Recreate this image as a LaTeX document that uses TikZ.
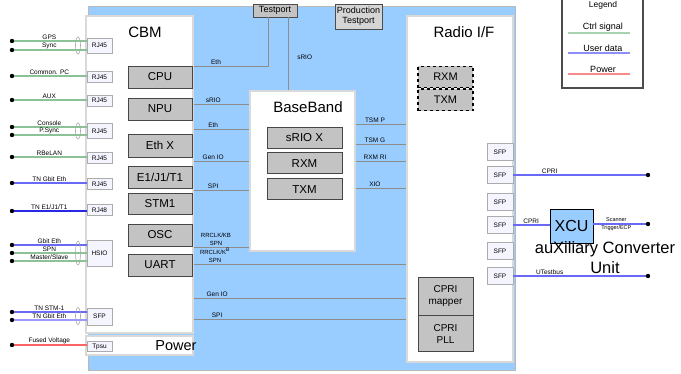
\documentclass[tikz,border=0pt]{standalone}
\usepackage{fontspec}
\setmainfont{Liberation Sans}
\usetikzlibrary{calc,positioning}
\definecolor{bgblue}{RGB}{153,204,255}
\definecolor{ctrlgreen}{RGB}{140,195,150}
\definecolor{userblue}{RGB}{105,105,245}
\definecolor{userdark}{RGB}{40,40,230}
\definecolor{userlight}{RGB}{155,155,255}
\definecolor{pwrred}{RGB}{250,100,100}
\definecolor{busgray}{RGB}{140,140,140}
\definecolor{unitgray}{RGB}{195,195,195}
\newcommand{\fsz}[2]{\fontsize{#1}{#2}\selectfont}
\tikzset{
  panel/.style={draw=gray!55, line width=0.8pt, fill=bgblue, inner sep=0pt},
  board/.style={draw=gray!30, line width=1.5pt, fill=white, inner sep=0pt},
  unit/.style={draw=gray!55!black, line width=0.9pt, fill=unitgray, minimum width=64pt, minimum height=22pt, inner sep=0pt, font=\fsz{11.5}{13}, align=center},
  port/.style={draw=gray!65, line width=0.7pt, fill=blue!4, minimum width=25pt, inner sep=0pt, font=\fsz{6.5}{7}},
  sfp/.style={port, minimum width=26pt, minimum height=17pt},
  tport/.style={draw=gray!60!black, line width=0.9pt, fill=unitgray, inner sep=0pt, font=\fsz{9}{10}, align=center},
  ttl/.style={font=\fsz{15}{18}, inner sep=0pt},
  sig/.style={font=\fsz{6.5}{8}, inner sep=0.8pt, anchor=south, align=center},
  bus/.style={draw=busgray, line width=0.9pt},
  ctrl/.style={draw=ctrlgreen, line width=1.6pt},
  user/.style={draw=userblue, line width=1.6pt},
  userdk/.style={draw=userdark, line width=1.8pt},
  userlt/.style={draw=userlight, line width=2pt},
  pwr/.style={draw=pwrred, line width=1.6pt},
  jack/.style={fill=black},
  bundle/.style={draw=gray!70, line width=0.6pt},
}
\newcommand{\InLine}[5]{%
  \coordinate (#1) at (12,#2);
  \draw[#3] (#1) -- (#1 -| #5.west) node[sig, midway] {#4};
  \fill[jack] (#1) circle (2.2pt);
}

\begin{document}
\begin{tikzpicture}[x=1pt, y=-1pt]
  \useasboundingbox (0,0) rectangle (681,373);
  \node[panel, minimum width=427pt, minimum height=364pt] (bg) at (301.5,188) {};
  \node[board, minimum width=107pt, minimum height=317pt] (cbm) at (139.5,174.5) {};
  \node[board, minimum width=107pt, minimum height=19pt] (pwr) at (139.5,345.5) {};
  \node[board, minimum width=105pt, minimum height=160pt] (bb) at (302.5,171) {};
  \node[board, minimum width=106pt, minimum height=346pt] (rf) at (460,189) {};

  \node[ttl] (cbmt) at (145,32) {CBM};
  \node[ttl] (bbt) at (308,107) {BaseBand};
  \node[ttl] (rft) at (464,32) {Radio I/F};
  \node[ttl, font=\fsz{14.5}{16}] (pwrt) at (176,346) {Power};

  \node[tport, minimum width=44pt, minimum height=13pt] (tp) at (275,10.5) {Testport};
  \node[tport, fill=unitgray!70, minimum width=47pt, minimum height=25pt] (ptp) at (358.5,16.5) {Production\\Testport};

  \foreach \nm/\txt/\y/\h in {cpu/CPU/77/22, npu/NPU/109/22, ethx/Eth X/145.5/23, e1/{E1/J1/T1}/177/22, stm/STM1/203.5/21, osc/OSC/235/22, uart/UART/265/22} {
    \node[unit, minimum height=\h] (\nm) at (160,\y) {\txt};
  }

  \node[unit, minimum width=75pt, minimum height=21pt] (srio) at (304.5,137.5) {sRIO X};
  \node[unit, minimum width=75pt, minimum height=21pt, below=4pt of srio] (bbrxm) {RXM};
  \node[unit, minimum width=75pt, minimum height=21pt, below=4pt of bbrxm] (bbtxm) {TXM};

  \node[unit, dashed, draw=black, line width=1.3pt, minimum width=55pt, minimum height=21.5pt, font=\fsz{11}{13}] (rfrxm) at (445.5,77) {RXM};
  \node[unit, dashed, draw=black, line width=1.3pt, minimum width=55pt, minimum height=21.5pt, font=\fsz{11}{13}, below=0pt of rfrxm] (rftxm) {TXM};
  \node[unit, minimum width=55pt, minimum height=38pt, font=\fsz{10}{12}] (cprim) at (445.5,296) {CPRI\\mapper};
  \node[unit, minimum width=55pt, minimum height=36pt, font=\fsz{10}{12}, below=0pt of cprim] (cpripll) {CPRI\\PLL};

  \foreach \txt/\y/\h [count=\i] in {RJ45/45.5/15, RJ45/77/11, RJ45/100.5/11, RJ45/131/15, RJ45/158/11, RJ45/184/11, RJ48/210/11, HSIO/253/26, SFP/316.5/17, Tpsu/346.5/10} {
    \node[port, minimum height=\h] (p\i) at (99.5,\y) {\txt};
  }

  \InLine{gps}{41}{ctrl}{GPS}{p1}
  \InLine{sync}{50}{ctrl}{Sync}{p1}
  \InLine{cpc}{76}{ctrl}{Common. PC}{p2}
  \InLine{aux}{100}{ctrl}{AUX}{p3}
  \InLine{cons}{127}{ctrl}{Console}{p4}
  \InLine{psync}{135}{ctrl}{P.Sync}{p4}
  \InLine{rblan}{157}{ctrl}{RBeLAN}{p5}
  \InLine{tneth}{183}{user}{TN Gbit Eth}{p6}
  \InLine{tne1}{211}{userdk}{TN E1/J1/T1}{p7}
  \InLine{geth}{245}{user}{Gbit Eth}{p8}
  \InLine{spn}{253}{ctrl}{SPN}{p8}
  \InLine{msl}{261}{ctrl}{Master/Slave}{p8}
  \InLine{tnstm}{312}{user}{TN STM-1}{p9}
  \InLine{tneth2}{320}{userlt}{TN Gbit Eth}{p9}
  \InLine{fused}{345}{pwr}{Fused Voltage}{p10}

  \draw[bundle] (78,45.5) ellipse (2.5pt and 8.5pt);
  \draw[bundle] (78,131) ellipse (2.5pt and 8pt);
  \draw[bundle] (78,253) ellipse (2.5pt and 12pt);
  \draw[bundle] (78,316) ellipse (2.5pt and 8.5pt);

  \coordinate (tp1) at ([xshift=-7pt]tp.south);
  \coordinate (tp2) at ([xshift=13pt]tp.south);
  \draw[bus] (tp1) |- (cbm.east |- 0,66) node[sig, pos=0.85] {Eth};
  \draw[bus] (tp2) -- (tp2 |- bb.north) node[sig, anchor=west, pos=0.55, xshift=8pt] {sRIO};

  \foreach \y/\lbl in {104/sRIO, 129/Eth, 161/Gen IO, 190/SPI} {
    \draw[bus] (cbm.east |- 0,\y) -- (bb.west |- 0,\y) node[sig, pos=0.35] {\lbl};
  }
  \draw[bus] (cbm.east |- 0,247) -- (bb.west |- 0,247) node[sig, pos=0.4, font=\fsz{6}{8.5}] {RRCLK/KB\\SPN};
  \draw[bus] (cbm.east |- 0,264) -- (rf.west |- 0,264) node[sig, pos=0.1, font=\fsz{6}{8.5}] {RRCLK/K\textsuperscript{B}\\SPN};
  \foreach \y/\lbl in {298/Gen IO, 319/SPI} {
    \draw[bus] (cbm.east |- 0,\y) -- (rf.west |- 0,\y) node[sig, pos=0.11] {\lbl};
  }
  \foreach \y/\lbl in {124/TSM P, 144/TSM G, 161/RXM RI, 188/XIO} {
    \draw[bus] (bb.east |- 0,\y) -- (rf.west |- 0,\y) node[sig, pos=0.38] {\lbl};
  }

  \foreach \y [count=\i] in {152,175,202,225,251,276} {
    \node[sfp] (s\i) at (500,\y) {SFP};
  }

  \node[draw=black, line width=0.8pt, fill=bgblue, minimum width=43pt, minimum height=34pt, inner sep=0pt, font=\fsz{16}{18}] (xcu) at (571.5,226) {XCU};
  \node[font=\fsz{16.5}{20}, align=center, inner sep=0pt] (xcut) at (605,258) {auXiliary Converter\\Unit};

  \coordinate (cpri) at (648,175);
  \coordinate (daisy) at (648,224);
  \coordinate (utb) at (648,276);
  \draw[user] (s2.east) -- (cpri) node[sig, pos=0.27] {CPRI};
  \draw[user] (s4.east) -- (s4.east -| xcu.west) node[sig, pos=0.49] {CPRI};
  \draw[user] (xcu.east |- daisy) -- (daisy) node[sig, anchor=center, pos=0.42, font=\fsz{5.5}{8}] {Scanner\\Trigger/ECP};
  \draw[user] (s6.east) -- (utb) node[sig, pos=0.27] {UTestbus};
  \foreach \c in {cpri, daisy, utb} {
    \fill[jack] (\c) circle (2.2pt);
  }

  \node[draw=gray!60!black, line width=1.2pt, fill=white, minimum width=81pt, minimum height=92pt, inner sep=0pt] (lgd) at (602.5,42) {};
  \node[font=\fsz{8.5}{10}, inner sep=0pt] (lgdt) at (603,5) {Legend};
  \foreach \st/\lbl/\y in {ctrl/Ctrl signal/33, user/User data/53, pwr/Power/74} {
    \coordinate (lg\y) at (568,\y);
    \draw[\st, draw opacity=0.75] (lg\y) -- ++(62,0) node[sig, midway, xshift=4pt, font=\fsz{9}{10}] {\lbl};
  }
\end{tikzpicture}
\end{document}
